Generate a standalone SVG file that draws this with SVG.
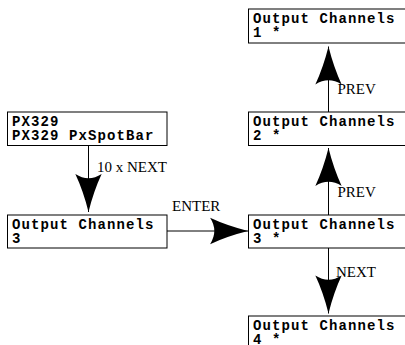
<svg xmlns="http://www.w3.org/2000/svg" width="405" height="345" viewBox="0 0 405 345">
<style>
.box{fill:#fff;stroke:#000;stroke-width:1}
.bt{font-family:"Liberation Mono","Courier New",monospace;font-weight:bold;font-size:14px;letter-spacing:1.1px;fill:#000}
.lbl{font-family:"Liberation Serif","Times New Roman",serif;font-size:15px;fill:#000}
.con{stroke:#000;stroke-width:1;fill:none}
</style>
<defs>
<marker id="ah" markerUnits="userSpaceOnUse" markerWidth="40" markerHeight="30" viewBox="-37 -13 38 26" refX="0" refY="0" orient="auto">
<path d="M0,0 Q-20,-5 -36,-12.5 Q-28,0 -36,12.5 Q-20,5 0,0 Z" fill="#000"/>
</marker>
</defs>
<g id="connectors">
<path class="con" d="M88.5,145 L88.5,212" marker-end="url(#ah)"/>
<path class="con" d="M167,231 L248,231" marker-end="url(#ah)"/>
<path class="con" d="M328.5,112 L328.5,46.5" marker-end="url(#ah)"/>
<path class="con" d="M328.5,215 L328.5,148" marker-end="url(#ah)"/>
<path class="con" d="M328.5,248 L328.5,313.5" marker-end="url(#ah)"/>
<text class="lbl" x="97" y="172">10 x NEXT</text>
<text class="lbl" x="172" y="211">ENTER</text>
<text class="lbl" x="337.5" y="94">PREV</text>
<text class="lbl" x="337.5" y="196.5">PREV</text>
<text class="lbl" x="336" y="277">NEXT</text>
</g>
<g id="px329">
<rect class="box" x="7.5" y="112" width="159.5" height="33.5"/>
<text class="bt" x="12" y="125.5">PX329</text>
<text class="bt" x="12" y="140">PX329 PxSpotBar</text>
</g>
<g id="oc3">
<rect class="box" x="7.5" y="215" width="159.5" height="33"/>
<text class="bt" x="12" y="228.5">Output Channels</text>
<text class="bt" x="12" y="243">3</text>
</g>
<g id="oc1s">
<rect class="box" x="248.5" y="9" width="159.5" height="34"/>
<text class="bt" x="253" y="22.5">Output Channels</text>
<text class="bt" x="253" y="37">1 *</text>
</g>
<g id="oc2s">
<rect class="box" x="248.5" y="112" width="159.5" height="33.5"/>
<text class="bt" x="253" y="125.5">Output Channels</text>
<text class="bt" x="253" y="140">2 *</text>
</g>
<g id="oc3s">
<rect class="box" x="248.5" y="215" width="159.5" height="33"/>
<text class="bt" x="253" y="228.5">Output Channels</text>
<text class="bt" x="253" y="243">3 *</text>
</g>
<g id="oc4s">
<rect class="box" x="248.5" y="316" width="159.5" height="33"/>
<text class="bt" x="253" y="329.5">Output Channels</text>
<text class="bt" x="253" y="344">4 *</text>
</g>
</svg>
